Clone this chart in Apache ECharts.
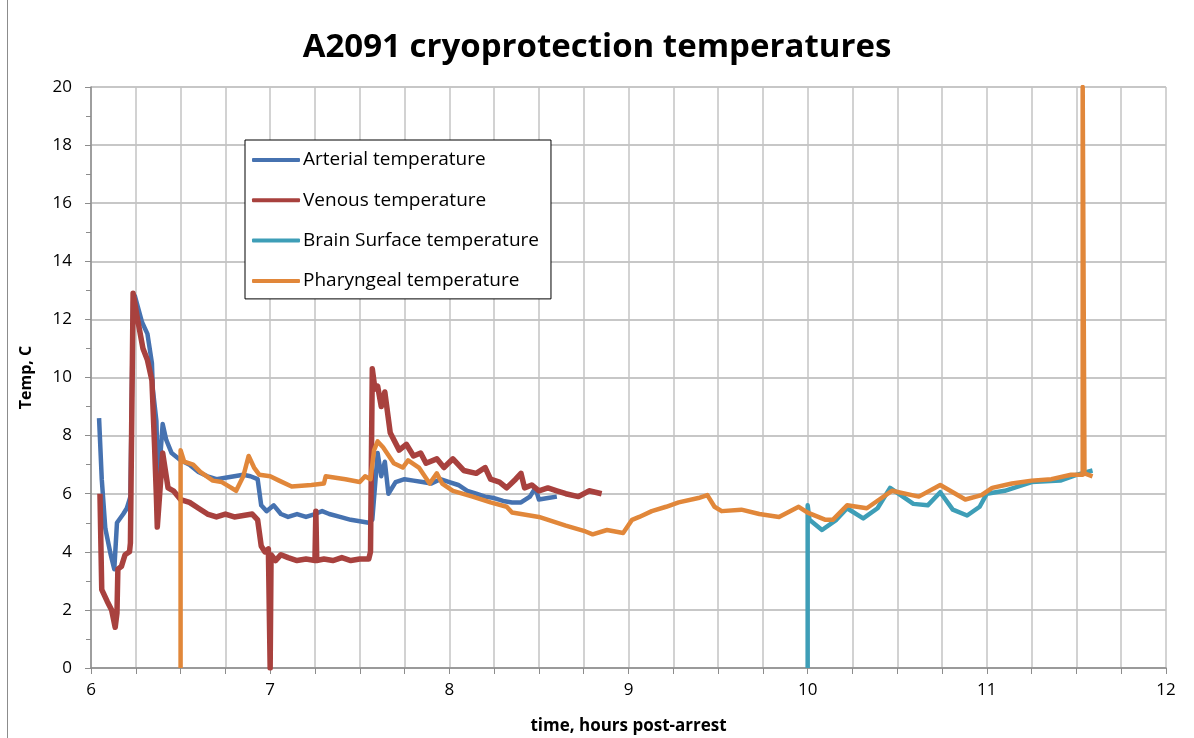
<!DOCTYPE html>
<html>
<head>
<meta charset="utf-8">
<script src="https://cdn.jsdelivr.net/npm/echarts@6/dist/echarts.min.js"></script>
<style>
html,body{margin:0;padding:0;background:#fff;}
#chart{width:1194px;height:738px;}
</style>
</head>
<body>
<div id="chart"></div>
<script>
// ---- data (time in hours post-arrest, temperature in C) ----
const arterialX = [6.045,6.06,6.08,6.11,6.13,6.145,6.18,6.2,6.22,6.235,6.245,6.285,6.315,6.34,6.345,6.365,6.375,6.40,6.42,6.45,6.5,6.55,6.6,6.65,6.7,6.75,6.8,6.85,6.89,6.93,6.95,6.98,7.02,7.06,7.1,7.15,7.2,7.25,7.29,7.33,7.39,7.45,7.5,7.55,7.57,7.6,7.62,7.64,7.66,7.7,7.75,7.8,7.85,7.9,7.95,8.0,8.05,8.1,8.15,8.2,8.25,8.3,8.35,8.4,8.45,8.48,8.5,8.55,8.6];
const arterialY = [8.6,6.5,4.8,3.9,3.4,5.0,5.3,5.5,5.9,12.6,12.8,11.9,11.5,10.5,9.6,8.5,6.3,8.4,7.85,7.4,7.15,7.0,6.75,6.6,6.5,6.55,6.6,6.65,6.6,6.5,5.6,5.4,5.6,5.3,5.2,5.3,5.2,5.3,5.4,5.3,5.2,5.1,5.05,5.0,5.1,7.4,6.6,7.1,6.0,6.4,6.5,6.45,6.4,6.35,6.5,6.4,6.3,6.1,6.0,5.9,5.85,5.75,5.7,5.7,5.9,6.2,5.8,5.85,5.9];

const venousX = [6.05,6.06,6.09,6.115,6.135,6.145,6.15,6.17,6.19,6.215,6.22,6.235,6.26,6.29,6.315,6.34,6.355,6.365,6.37,6.40,6.43,6.46,6.5,6.55,6.6,6.65,6.7,6.75,6.8,6.85,6.9,6.93,6.95,6.97,6.99,7.0,7.005,7.03,7.06,7.1,7.15,7.2,7.25,7.255,7.26,7.3,7.35,7.4,7.45,7.5,7.55,7.56,7.57,7.585,7.6,7.62,7.64,7.67,7.72,7.76,7.8,7.84,7.87,7.93,7.97,8.02,8.05,8.08,8.15,8.2,8.23,8.28,8.32,8.37,8.4,8.42,8.46,8.5,8.55,8.6,8.65,8.72,8.78,8.85];
const venousY = [6.0,2.7,2.3,2.0,1.4,1.9,3.4,3.5,3.9,4.0,4.3,12.9,12.0,11.0,10.6,9.9,7.6,5.9,4.85,7.4,6.2,6.1,5.8,5.7,5.5,5.3,5.2,5.3,5.2,5.25,5.3,5.1,4.2,4.0,4.1,0,3.9,3.7,3.9,3.8,3.7,3.75,3.7,5.4,3.7,3.75,3.7,3.8,3.7,3.75,3.75,4.0,10.3,9.6,9.7,9.0,9.5,8.1,7.5,7.7,7.3,7.4,7.05,7.2,6.9,7.2,7.0,6.8,6.7,6.9,6.5,6.4,6.2,6.5,6.7,6.2,6.3,6.1,6.2,6.1,6.0,5.9,6.1,6.0];

const brainX = [10.0,10.0,10.01,10.08,10.16,10.22,10.31,10.39,10.46,10.59,10.67,10.74,10.81,10.89,10.96,11.0,11.1,11.25,11.41,11.5,11.59];
const brainY = [0,5.6,5.1,4.75,5.1,5.5,5.15,5.5,6.2,5.65,5.6,6.05,5.45,5.25,5.55,6.0,6.1,6.4,6.45,6.65,6.8];

const pharyngealX = [6.5,6.5,6.52,6.57,6.61,6.68,6.73,6.77,6.81,6.85,6.88,6.91,6.94,7.0,7.05,7.12,7.23,7.3,7.31,7.42,7.5,7.53,7.56,7.58,7.6,7.63,7.69,7.74,7.77,7.83,7.89,7.93,7.96,8.02,8.13,8.23,8.32,8.35,8.5,8.65,8.76,8.8,8.88,8.97,9.02,9.06,9.13,9.21,9.28,9.39,9.44,9.48,9.52,9.63,9.73,9.84,9.95,10.0,10.1,10.14,10.22,10.33,10.4,10.47,10.62,10.74,10.88,10.97,11.03,11.14,11.25,11.36,11.47,11.535,11.535,11.545,11.545,11.59];
const pharyngealY = [0,7.5,7.1,7.0,6.75,6.45,6.4,6.25,6.1,6.6,7.3,6.9,6.65,6.6,6.45,6.25,6.3,6.35,6.6,6.5,6.4,6.6,6.5,7.5,7.8,7.6,7.05,6.9,7.15,6.9,6.35,6.7,6.35,6.1,5.9,5.7,5.55,5.35,5.2,4.9,4.7,4.6,4.75,4.65,5.1,5.2,5.4,5.55,5.7,5.85,5.95,5.55,5.4,5.45,5.3,5.2,5.55,5.35,5.1,5.1,5.6,5.5,5.8,6.1,5.9,6.3,5.8,5.95,6.2,6.35,6.45,6.5,6.65,6.65,20,20,6.7,6.6];

const seriesNames = ['Arterial temperature','Venous temperature','Brain Surface temperature','Pharyngeal temperature'];
const seriesColors = ['#4672B0','#A8413E','#3E9EB7','#E1873A'];
const xTicks = [6,7,8,9,10,11,12];
const yTicks = [0,2,4,6,8,10,12,14,16,18,20];

function zip(xs, ys){ return xs.map((x,i)=>[x, ys[i]]); }
const allData = [zip(arterialX,arterialY), zip(venousX,venousY), zip(brainX,brainY), zip(pharyngealX,pharyngealY)];

const chart = echarts.init(document.getElementById('chart'), null, {renderer:'canvas'});
const FONT = '"Open Sans", Lato, sans-serif';
const option = {
  animation: false,
  backgroundColor: '#fff',
  color: seriesColors,
  title: {
    text: 'A2091 cryoprotection temperatures',
    left: 'center', top: 26,
    textStyle: {fontFamily: FONT, fontSize: 33, fontWeight: 'bold', color: '#000'}
  },
  legend: {
    orient: 'vertical', left: 245, top: 140,
    padding: [10, 12, 8, 7],
    itemGap: 20.3, itemWidth: 48, itemHeight: 4,
    icon: 'roundRect',
    borderColor: '#000', borderWidth: 1, backgroundColor: '#fff',
    textStyle: {fontFamily: FONT, fontSize: 19, color: '#000', lineHeight: 20, padding: [0,0,0,-2]},
    data: seriesNames
  },
  grid: {left: 91, right: 28, top: 87, bottom: 70, containLabel: false, outerBoundsMode: 'none'},
  xAxis: {
    type: 'value', min: xTicks[0], max: xTicks[xTicks.length-1], interval: 1,
    name: 'time, hours post-arrest', nameLocation: 'middle', nameGap: 50,
    nameTextStyle: {fontFamily: FONT, fontSize: 17, fontWeight: 'bold', color: '#000'},
    axisLine: {show: true, lineStyle: {color: '#8c8c8c', width: 1.5}},
    axisTick: {show: true, length: 6, lineStyle: {color: '#8c8c8c'}},
    minorTick: {show: true, splitNumber: 4, length: 6, lineStyle: {color: '#8c8c8c'}},
    splitLine: {show: true, lineStyle: {color: '#c4c4c4', width: 1.5}},
    minorSplitLine: {show: true, lineStyle: {color: '#c4c4c4', width: 1.5}},
    axisLabel: {fontFamily: FONT, fontSize: 17, color: '#000', margin: 14}
  },
  yAxis: {
    type: 'value', min: yTicks[0], max: yTicks[yTicks.length-1], interval: 2,
    name: 'Temp, C', nameLocation: 'middle', nameGap: 57, nameRotate: 90,
    nameTextStyle: {fontFamily: FONT, fontSize: 16, fontWeight: 'bold', color: '#000'},
    axisLine: {show: true, lineStyle: {color: '#8c8c8c', width: 1.5}},
    axisTick: {show: true, length: 6, lineStyle: {color: '#8c8c8c'}},
    minorTick: {show: true, splitNumber: 2, length: 5, lineStyle: {color: '#8c8c8c'}},
    splitLine: {show: true, lineStyle: {color: '#b4b4b4', width: 1.5}},
    axisLabel: {fontFamily: FONT, fontSize: 17, color: '#000', margin: 19}
  },
  graphic: [{
    type: 'line', shape: {x1: 7.5, y1: 0, x2: 7.5, y2: 738},
    style: {stroke: '#8c8c8c', lineWidth: 1}
  }],
  series: seriesNames.map((n,i)=>({
    name: n, type: 'line', data: allData[i], showSymbol: false, symbol: 'none',
    clip: true,
    lineStyle: {width: i===1 ? 5.5 : 4.5, color: seriesColors[i], join: 'round'},
    itemStyle: {color: seriesColors[i]}
  }))
};
chart.setOption(option);
</script>
</body>
</html>
